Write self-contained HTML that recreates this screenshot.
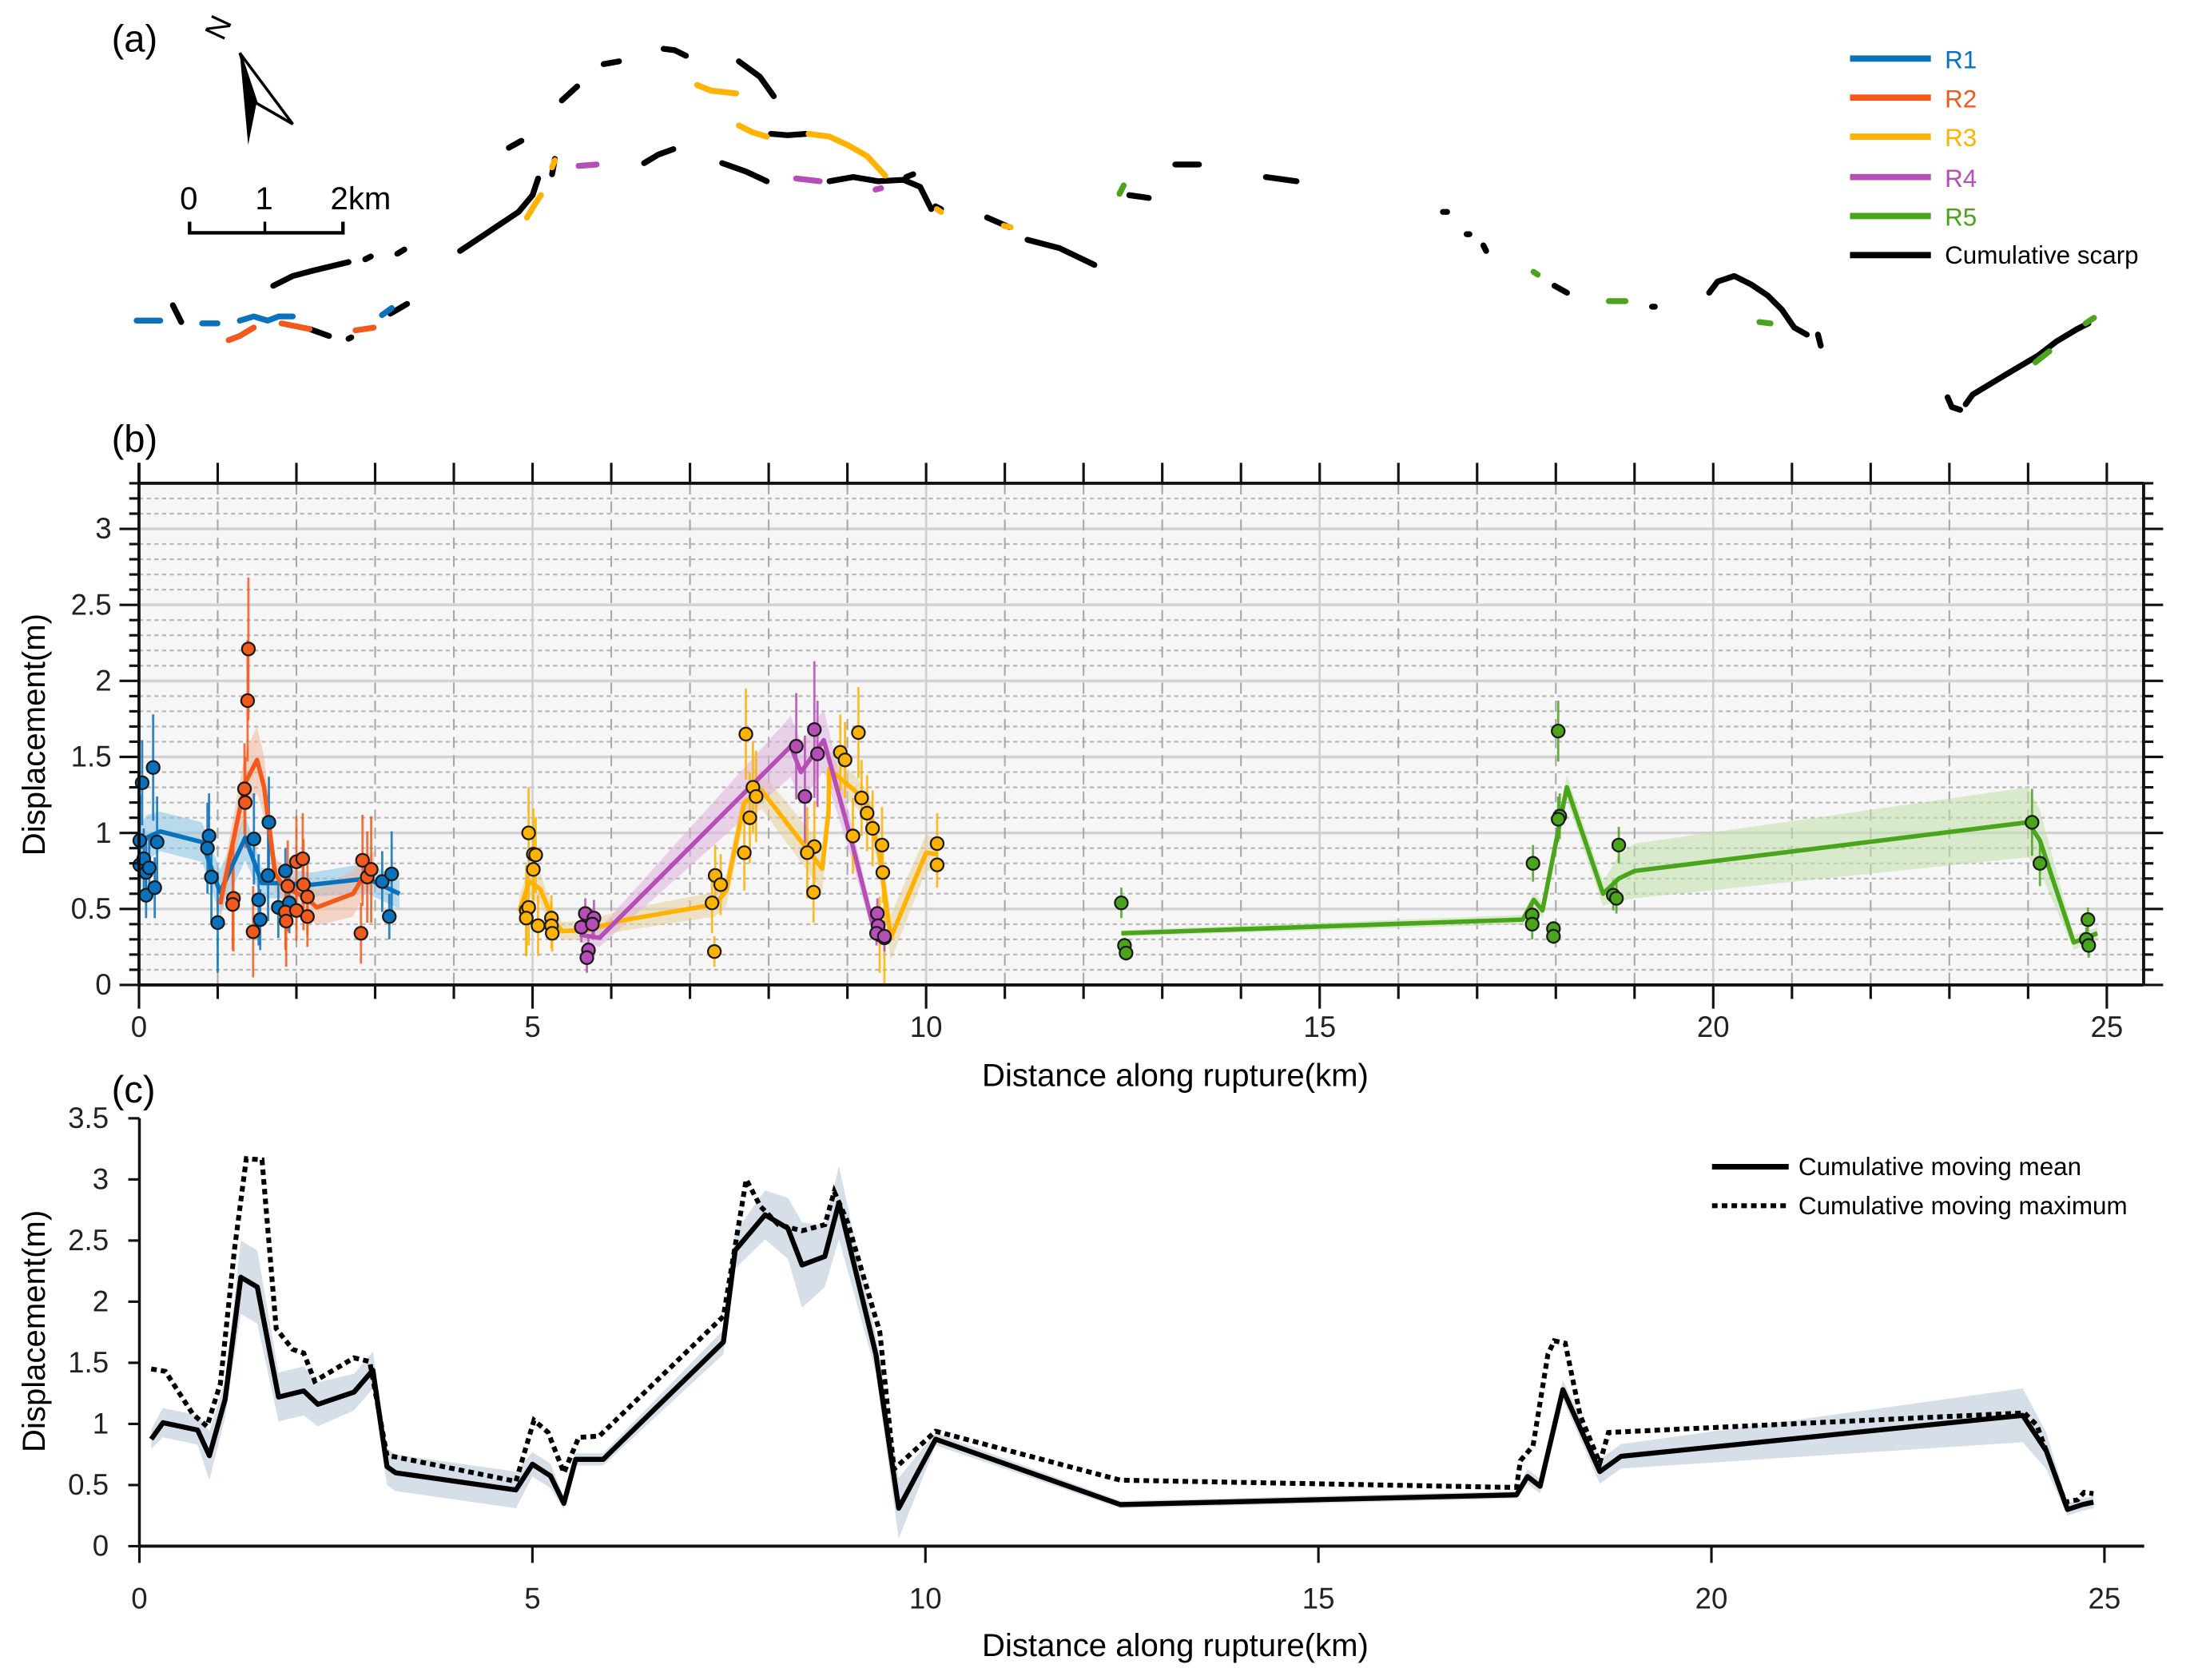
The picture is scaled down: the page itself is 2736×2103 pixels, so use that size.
<!DOCTYPE html>
<html><head><meta charset="utf-8">
<style>
html,body{margin:0;padding:0;background:#fff;}
svg{display:block;}
text{font-family:"Liberation Sans",sans-serif;}
</style></head>
<body>
<svg id="fig" xmlns="http://www.w3.org/2000/svg" width="2736" height="2103" viewBox="0 0 1568 1205.2">
  <g id="panelA">
    <text x="80" y="37" font-size="27">(a)</text>
    <text x="0" y="0" font-size="22" transform="translate(160,30) rotate(-65)">N</text>
    <polygon points="172,38 184,74 178,104" fill="#000"/>
    <polygon points="172,38 210,89 184,74" fill="#fff" stroke="#000" stroke-width="2"/>
    <g>
      <polyline points="136,159 136,167 246,167 246,159" fill="none" stroke="#000" stroke-width="2.5"/>
      <line x1="190" y1="159" x2="190" y2="167" stroke="#000" stroke-width="2"/>
      <text x="129" y="150" font-size="23">0</text>
      <text x="183" y="150" font-size="23">1</text>
      <text x="237" y="150" font-size="23">2km</text>
    </g>
    <g id="mapSegs"></g>
    <g>
      <line x1="1327" y1="42" x2="1385" y2="42" stroke="#0a72bd" stroke-width="4.5"/>
      <text x="1395" y="49" font-size="18" fill="#0a72bd">R1</text>
      <line x1="1327" y1="70" x2="1385" y2="70" stroke="#f25a1d" stroke-width="4.5"/>
      <text x="1395" y="77" font-size="18" fill="#f25a1d">R2</text>
      <line x1="1327" y1="98" x2="1385" y2="98" stroke="#ffb300" stroke-width="4.5"/>
      <text x="1395" y="105" font-size="18" fill="#ffb300">R3</text>
      <line x1="1327" y1="127" x2="1385" y2="127" stroke="#b54eb5" stroke-width="4.5"/>
      <text x="1395" y="134" font-size="18" fill="#b54eb5">R4</text>
      <line x1="1327" y1="155" x2="1385" y2="155" stroke="#4aa51c" stroke-width="4.5"/>
      <text x="1395" y="162" font-size="18" fill="#4aa51c">R5</text>
      <line x1="1327" y1="183" x2="1385" y2="183" stroke="#000" stroke-width="4.5"/>
      <text x="1395" y="189" font-size="18" fill="#000">Cumulative scarp</text>
    </g>
  </g>
  <g id="panelB"></g>
  <g id="panelC"></g>
</svg>
<script>
// ---------- Panel (b) data ----------
const r1Km = [0.01,0.04,0.01,0.06,0.09,0.09,0.13,0.18,0.2,0.23,0.89,0.87,0.92,1.0,1.46,1.52,1.54,1.65,1.64,1.77,1.86,1.91,3.09,3.18,3.21];
const r1Disp = [0.95,1.33,0.79,0.83,0.74,0.59,0.77,1.43,0.64,0.94,0.98,0.9,0.71,0.41,0.96,0.56,0.43,1.07,0.72,0.51,0.75,0.54,0.68,0.45,0.73];
const r1Err = [0.3,0.28,0.2,0.2,0.2,0.15,0.2,0.35,0.2,0.3,0.28,0.3,0.3,0.33,0.3,0.3,0.2,0.3,0.3,0.2,0.15,0.2,0.2,0.15,0.28];
const r1LineKm = [0.01,0.1,0.27,0.8,1.03,1.35,1.56,1.73,2.2,2.9,3.31];
const r1LineDisp = [0.9,0.97,1.01,0.94,0.61,0.97,0.67,0.67,0.66,0.7,0.6];
const r1Band = [0.15,0.15,0.13,0.13,0.15,0.15,0.1,0.1,0.08,0.1,0.1];

const r2Km = [1.2,1.19,1.34,1.35,1.39,1.38,1.45,1.86,1.89,1.87,2.0,2.0,2.08,2.09,2.14,2.14,2.82,2.84,2.9,2.95];
const r2Disp = [0.57,0.53,1.29,1.2,2.21,1.87,0.35,0.48,0.65,0.42,0.81,0.49,0.83,0.66,0.45,0.58,0.34,0.82,0.71,0.76];
const r2Err = [0.35,0.3,0.3,0.3,0.47,0.4,0.3,0.25,0.3,0.3,0.3,0.2,0.3,0.3,0.2,0.25,0.2,0.3,0.3,0.35];
const r2LineKm = [1.03,1.35,1.5,1.59,1.73,1.85,2.11,2.26,2.72,2.87,2.99];
const r2LineDisp = [0.53,1.33,1.48,1.3,0.73,0.64,0.58,0.51,0.6,0.73,0.78];
const r2Band = [0.1,0.2,0.22,0.2,0.12,0.1,0.1,0.12,0.15,0.12,0.1];

const r3Km = [4.95,5.01,5.04,5.01,4.92,4.95,4.92,5.07,5.24,5.24,5.25,7.28,7.32,7.39,7.31,7.69,7.76,7.8,7.84,7.71,8.58,8.49,8.57,8.91,8.97,9.14,9.07,9.18,9.25,9.32,9.44,9.45,9.41,9.47,10.14,10.14];
const r3Disp = [1.0,0.86,0.855,0.76,0.49,0.51,0.44,0.39,0.44,0.39,0.34,0.54,0.72,0.66,0.22,0.87,1.1,1.3,1.24,1.65,0.91,0.87,0.61,1.53,1.48,1.66,0.98,1.23,1.13,1.03,0.92,0.74,0.33,0.31,0.93,0.79];
const r3Err = [0.3,0.3,0.25,0.25,0.3,0.25,0.25,0.2,0.15,0.15,0.12,0.2,0.2,0.2,0.1,0.25,0.3,0.3,0.3,0.3,0.3,0.3,0.2,0.25,0.25,0.3,0.25,0.25,0.25,0.25,0.25,0.2,0.25,0.3,0.2,0.15];
const r3LineKm = [4.83,4.96,5.1,5.24,5.37,5.69,6.14,7.32,7.46,7.69,7.91,8.68,8.76,8.77,9.09,9.27,9.41,9.55,10.0,10.14];
const r3LineDisp = [0.485,0.68,0.63,0.45,0.355,0.36,0.425,0.53,0.62,1.2,1.28,0.765,1.14,1.42,1.28,1.17,0.85,0.31,0.87,0.86];
const r3Band = [0.1,0.1,0.1,0.08,0.06,0.06,0.07,0.08,0.1,0.12,0.12,0.15,0.12,0.12,0.1,0.1,0.12,0.15,0.12,0.1];

const r4Km = [5.67,5.62,5.78,5.76,5.71,5.69,8.35,8.58,8.62,8.46,9.38,9.39,9.37,9.47];
const r4Disp = [0.47,0.38,0.44,0.4,0.23,0.18,1.57,1.68,1.52,1.24,0.47,0.39,0.34,0.32];
const r4Err = [0.1,0.1,0.12,0.1,0.08,0.1,0.35,0.45,0.35,0.4,0.1,0.1,0.08,0.1];
const r4LineKm = [5.6,5.85,8.28,8.41,8.7,9.04,9.32,9.46];
const r4LineDisp = [0.33,0.31,1.57,1.4,1.61,0.97,0.4,0.32];
const r4Band = [0.05,0.06,0.2,0.2,0.2,0.12,0.06,0.05];

const r5Km = [12.48,12.52,12.54,17.7,17.71,17.7,17.97,17.97,18.03,18.05,18.03,18.73,18.77,18.8,24.05,24.15,24.76,24.74,24.77];
const r5Disp = [0.54,0.26,0.21,0.46,0.8,0.4,0.37,0.32,1.67,1.11,1.09,0.59,0.57,0.92,1.07,0.8,0.43,0.3,0.26];
const r5Err = [0.1,0.05,0.05,0.1,0.12,0.1,0.05,0.05,0.2,0.15,0.15,0.1,0.1,0.12,0.22,0.15,0.08,0.08,0.08];
const r5LineKm = [12.48,17.58,17.72,17.83,18.14,18.6,18.8,19.0,24.0,24.15,24.58,24.88];
const r5LineDisp = [0.34,0.43,0.56,0.49,1.3,0.6,0.7,0.75,1.07,0.95,0.28,0.34];
const r5Band = [0.02,0.03,0.05,0.05,0.08,0.08,0.15,0.18,0.23,0.2,0.05,0.04];

// ---------- Panel (c) data ----------
const meanKm = [0.15,0.3,0.74,0.89,1.09,1.29,1.5,1.77,2.09,2.27,2.73,2.97,3.15,3.26,4.79,5.0,5.23,5.4,5.55,5.9,7.43,7.58,7.96,8.25,8.43,8.72,8.9,9.37,9.66,10.13,12.48,17.52,17.66,17.82,18.11,18.58,18.85,23.96,24.26,24.53,24.72,24.86];
const meanDisp = [0.875,1.01,0.95,0.74,1.2,2.2,2.12,1.22,1.27,1.16,1.26,1.44,0.65,0.6,0.46,0.67,0.575,0.35,0.71,0.71,1.67,2.42,2.71,2.6,2.3,2.37,2.81,1.57,0.31,0.875,0.34,0.42,0.57,0.49,1.28,0.61,0.735,1.07,0.78,0.3,0.34,0.36];
const meanBand = [0.08,0.12,0.12,0.2,0.15,0.3,0.3,0.2,0.2,0.18,0.15,0.15,0.15,0.15,0.15,0.1,0.1,0.05,0.05,0.05,0.1,0.15,0.2,0.25,0.35,0.25,0.3,0.15,0.25,0.05,0.03,0.03,0.06,0.06,0.08,0.1,0.1,0.22,0.15,0.05,0.05,0.05];
const maxKm = [0.15,0.33,0.68,0.86,1.03,1.21,1.36,1.56,1.74,1.95,2.09,2.23,2.73,2.93,3.15,3.26,4.79,5.02,5.2,5.4,5.59,5.85,7.43,7.72,7.9,8.13,8.43,8.72,8.84,9.01,9.42,9.6,10.13,12.48,17.52,17.57,17.73,17.92,18.0,18.14,18.33,18.58,18.69,23.98,24.14,24.5,24.66,24.74,24.86];
const maxDisp = [1.45,1.43,1.08,0.98,1.33,2.43,3.17,3.16,1.78,1.61,1.58,1.35,1.54,1.51,0.74,0.73,0.53,1.03,0.93,0.6,0.89,0.9,1.88,3.0,2.78,2.63,2.58,2.63,2.9,2.65,1.75,0.63,0.94,0.54,0.48,0.7,0.82,1.57,1.68,1.66,1.07,0.68,0.93,1.09,0.99,0.36,0.38,0.44,0.43];

// tick labels
const bYTicks = ["0","0.5","1","1.5","2","2.5","3"];
const xTicks = ["0","5","10","15","20","25"];
const cYTicks = ["0","0.5","1","1.5","2","2.5","3","3.5"];

// ---------- scales ----------
function bx(k){return 99.7 + k*56.46;}
function by(m){return 706.6 - m*109.07;}
function cx(k){return 100 + k*56.38;}
function cy(m){return 1109.2 - m*87.7;}

const NS = "http://www.w3.org/2000/svg";
function mk(tag, attrs, parent){
  const e = document.createElementNS(NS, tag);
  for (const k in attrs) e.setAttribute(k, attrs[k]);
  parent.appendChild(e);
  return e;
}

// ---------- Panel (a) map ----------
const mapG = document.getElementById('mapSegs');
const mapSegs = [
 ["#000",[[196,205],[210,198],[225,194],[250,188]]],["#000",[[262,186],[266,184]]],["#000",[[285,182],[290,179]]],
 ["#000",[[124,219],[130,231]]],["#000",[[330,180],[345,170],[360,160],[372,152],[382,140],[386,128]]],
 ["#000",[[365,106],[374,101]]],["#000",[[403,72],[414,62]]],["#000",[[433,46],[444,44]]],["#000",[[476,35],[484,36],[492,40]]],
 ["#000",[[530,44],[545,55],[555,69]]],["#000",[[396,125],[398,114]]],["#000",[[462,117],[472,111],[483,107]]],
 ["#000",[[518,117],[535,123],[550,130]]],["#000",[[553,96],[565,97],[578,96]]],["#000",[[595,130],[612,127],[630,130],[648,129],[660,134],[668,150]]],
 ["#000",[[650,127],[655,125]]],["#000",[[708,156],[724,163]]],["#000",[[737,172],[760,178],[785,190]]],["#000",[[671,148],[675,150]]],
 ["#000",[[222,236],[236,241]]],["#000",[[250,243],[252,242]]],["#000",[[280,225],[292,218]]],
 ["#000",[[810,140],[824,142]]],["#000",[[843,118],[860,118]]],["#000",[[908,127],[930,130]]],["#000",[[1035,152],[1038,152]]],
 ["#000",[[1052,168],[1054,168]]],["#000",[[1064,176],[1066,180]]],["#000",[[1115,205],[1124,210]]],["#000",[[1185,220],[1187,220]]],
 ["#000",[[1226,210],[1232,202],[1244,198],[1256,204],[1268,212],[1278,222],[1287,235],[1296,240]]],["#000",[[1304,240],[1306,248]]],
 ["#000",[[1397,285],[1400,292],[1406,294]]],["#000",[[1410,290],[1415,283],[1440,268],[1462,255],[1475,245],[1490,236],[1498,232]]],
 ["#0a72bd",[[98,230],[115,230]]],["#0a72bd",[[145,232],[156,232]]],["#0a72bd",[[172,230],[182,227],[192,230],[200,227],[210,227]]],["#0a72bd",[[274,226],[281,221]]],
 ["#f25a1d",[[164,244],[172,241],[182,235]]],["#f25a1d",[[202,232],[212,234],[222,236]]],["#f25a1d",[[255,237],[268,235]]],
 ["#ffb300",[[378,156],[384,146],[388,140]]],["#ffb300",[[396,120],[398,115]]],["#ffb300",[[500,61],[510,65],[528,67]]],
 ["#ffb300",[[530,90],[540,95],[550,98]]],["#ffb300",[[580,96],[595,98],[608,104],[622,112],[635,126]]],["#ffb300",[[672,150],[675,152]]],["#ffb300",[[720,162],[725,163]]],
 ["#b54eb5",[[415,119],[428,118]]],["#b54eb5",[[571,128],[588,130]]],["#b54eb5",[[628,136],[632,135]]],
 ["#4aa51c",[[803,139],[806,133]]],["#4aa51c",[[1100,195],[1103,197]]],["#4aa51c",[[1154,216],[1166,216]]],["#4aa51c",[[1262,231],[1270,232]]],
 ["#4aa51c",[[1460,260],[1470,252]]],["#4aa51c",[[1496,232],[1502,228]]]
];
mapSegs.forEach(function(s, i){
  const p = mk('polyline', {points: s[1].map(function(q){return q.join(',');}).join(' '), fill:'none', stroke:s[0], 'stroke-width':4.2, 'stroke-linecap':'round', 'stroke-linejoin':'round'}, mapG);
  
  
});

// ---------- Panel (b) ----------
const B = document.getElementById('panelB');
(function(){
  let t = mk('text', {x:80, y:324, 'font-size':27}, B); t.textContent = '(b)';
  
  
  const bg = mk('rect', {x:bx(0), y:346.7, width:1537.6-bx(0), height:by(0)-346.7, fill:'#f6f6f6'}, B);
  
  
  for (let i=1;i<=32;i++){
    const m = i/10; const major = (i%5===0);
    const g = mk('line', {x1:bx(0), x2:1537.6, y1:by(m), y2:by(m), stroke: major?'#d2d2d2':'#b9b9b9', 'stroke-width': major?2:1.3, 'stroke-dasharray': major?'none':'3,2.5'}, B);
    
    
  }
  for (let k=1;k<=25;k++){
    const major = (k%5===0);
    const g = mk('line', {x1:bx(k), x2:bx(k), y1:346.7, y2:by(0), stroke: major?'#cfcfcf':'#a8a8a8', 'stroke-width': major?1.5:1.2, 'stroke-dasharray': major?'none':'8,5'}, B);
    
    
  }
  const series = [
    ['r1','#0a72bd',r1Km,r1Disp,r1Err,r1LineKm,r1LineDisp,r1Band],
    ['r2','#f25a1d',r2Km,r2Disp,r2Err,r2LineKm,r2LineDisp,r2Band],
    ['r3','#ffb300',r3Km,r3Disp,r3Err,r3LineKm,r3LineDisp,r3Band],
    ['r4','#b54eb5',r4Km,r4Disp,r4Err,r4LineKm,r4LineDisp,r4Band],
    ['r5','#4aa51c',r5Km,r5Disp,r5Err,r5LineKm,r5LineDisp,r5Band]
  ];
  const bandColors = {r1:'#86c3e6', r2:'#f3b49a', r3:'#e3cf9a', r4:'#dcb3dc', r5:'#bfe0a8'};
  series.forEach(function(s){
    let up = s[5].map(function(k,i){return bx(k)+','+by(s[6][i]+s[7][i]);});
    let dn = s[5].map(function(k,i){return bx(k)+','+by(Math.max(0,s[6][i]-s[7][i]));}).reverse();
    const band = mk('polygon', {points: up.concat(dn).join(' '), fill: bandColors[s[0]], opacity:0.55}, B);
    
    
  });
  series.forEach(function(s){
    s[2].forEach(function(k,i){
      const e = mk('line', {x1:bx(k), x2:bx(k), y1:by(s[3][i]+s[4][i]), y2:by(Math.max(0,s[3][i]-s[4][i])), stroke:s[1], 'stroke-width':1.6, opacity:0.85}, B);
      
      
    });
  });
  series.forEach(function(s){
    const ln = mk('polyline', {points: s[5].map(function(k,i){return bx(k)+','+by(s[6][i]);}).join(' '), fill:'none', stroke:s[1], 'stroke-width':3.2, 'stroke-linejoin':'round'}, B);
    
    
  });
  series.forEach(function(s){
    s[2].forEach(function(k,i){
      const c = mk('circle', {cx:bx(k), cy:by(s[3][i]), r:4.6, fill:s[1], stroke:'#1a1a1a', 'stroke-width':1.3}, B);
      
      
    });
  });
  const fr = [[bx(0),332,bx(0),by(0)],[bx(0),by(0),1537.6,by(0)],[bx(0),346.7,1537.6,346.7],[1537.6,346.7,1537.6,by(0)]];
  fr.forEach(function(f){
    const l = mk('line', {x1:f[0],y1:f[1],x2:f[2],y2:f[3],stroke:'#111','stroke-width':2.2}, B);
    
    
  });
  for (let i=0;i<=33;i++){
    const m=i/10; const major=(i%5===0); const len = major?14:7;
    const tl = mk('line', {x1:bx(0)-len, x2:bx(0), y1:by(m), y2:by(m), stroke:'#111','stroke-width':1.8}, B);
    
    
    const tr = mk('line', {x1:1537.6, x2:1537.6+len, y1:by(m), y2:by(m), stroke:'#111','stroke-width':1.8}, B);
    
    
  }
  for (let k=0;k<=25;k++){
    const major=(k%5===0);
    const tb = mk('line', {x1:bx(k), x2:bx(k), y1:by(0), y2:by(0)+(major?17:10), stroke:'#111','stroke-width':1.8}, B);
    
    
    const tt = mk('line', {x1:bx(k), x2:bx(k), y1:332, y2:346.7, stroke:'#111','stroke-width':1.8}, B);
    
    
  }
  bYTicks.forEach(function(s){
    const lab = mk('text', {x:80, y:by(parseFloat(s))+7, 'font-size':21, 'text-anchor':'end', fill:'#222'}, B);
    lab.textContent = s;
    
    
  });
  xTicks.forEach(function(s){
    const lab = mk('text', {x:bx(parseFloat(s)), y:744, 'font-size':21, 'text-anchor':'middle', fill:'#222'}, B);
    lab.textContent = s;
    
    
  });
  t = mk('text', {x:0, y:0, 'font-size':23, 'text-anchor':'middle', transform:'translate(32,527) rotate(-90)'}, B);
  t.textContent = 'Displacement(m)';
  
  
  t = mk('text', {x:843, y:779, 'font-size':23, 'text-anchor':'middle'}, B);
  t.textContent = 'Distance along rupture(km)';
  
  
})();

// ---------- Panel (c) ----------
const C = document.getElementById('panelC');
(function(){
  let t = mk('text', {x:80, y:791, 'font-size':27}, C); t.textContent = '(c)';
  
  
  let up = meanKm.map(function(k,i){return cx(k)+','+cy(meanDisp[i]+meanBand[i]);});
  let dn = meanKm.map(function(k,i){return cx(k)+','+cy(Math.max(0,meanDisp[i]-meanBand[i]));}).reverse();
  const band = mk('polygon', {points: up.concat(dn).join(' '), fill:'#d6dfe7'}, C);
  
  
  const mx = mk('polyline', {points: maxKm.map(function(k,i){return cx(k)+','+cy(maxDisp[i]);}).join(' '), fill:'none', stroke:'#000','stroke-width':3.5,'stroke-dasharray':'4,3'}, C);
  
  
  const mn = mk('polyline', {points: meanKm.map(function(k,i){return cx(k)+','+cy(meanDisp[i]);}).join(' '), fill:'none', stroke:'#000','stroke-width':3.6,'stroke-linejoin':'round'}, C);
  
  
  let a = mk('line', {x1:cx(0), x2:cx(0), y1:cy(3.5), y2:cy(0), stroke:'#111','stroke-width':2}, C);
  
  
  a = mk('line', {x1:cx(0), x2:1538, y1:cy(0), y2:cy(0), stroke:'#111','stroke-width':2.2}, C);
  
  
  cYTicks.forEach(function(s){
    const m = parseFloat(s);
    const tk = mk('line', {x1:cx(0)-8, x2:cx(0), y1:cy(m), y2:cy(m), stroke:'#111','stroke-width':1.8}, C);
    
    
    const lab = mk('text', {x:78, y:cy(m)+7, 'font-size':21, 'text-anchor':'end', fill:'#222'}, C);
    lab.textContent = s;
    
    
  });
  xTicks.forEach(function(s){
    const k = parseFloat(s);
    const tk = mk('line', {x1:cx(k), x2:cx(k), y1:cy(0), y2:cy(0)+12, stroke:'#111','stroke-width':1.8}, C);
    
    
    const lab = mk('text', {x:cx(k), y:1154, 'font-size':21, 'text-anchor':'middle', fill:'#222'}, C);
    lab.textContent = s;
    
    
  });
  t = mk('text', {x:0, y:0, 'font-size':23, 'text-anchor':'middle', transform:'translate(32,955) rotate(-90)'}, C);
  t.textContent = 'Displacement(m)';
  
  
  t = mk('text', {x:843, y:1188, 'font-size':23, 'text-anchor':'middle'}, C);
  t.textContent = 'Distance along rupture(km)';
  
  
  let l = mk('line', {x1:1228, x2:1283, y1:837, y2:837, stroke:'#000','stroke-width':4}, C);
  
  
  t = mk('text', {x:1290, y:843, 'font-size':18}, C); t.textContent = 'Cumulative moving mean';
  
  
  l = mk('line', {x1:1228, x2:1283, y1:865, y2:865, stroke:'#000','stroke-width':3.5,'stroke-dasharray':'4,3'}, C);
  
  
  t = mk('text', {x:1290, y:871, 'font-size':18}, C); t.textContent = 'Cumulative moving maximum';
  
  
})();
</script>
</body></html>
